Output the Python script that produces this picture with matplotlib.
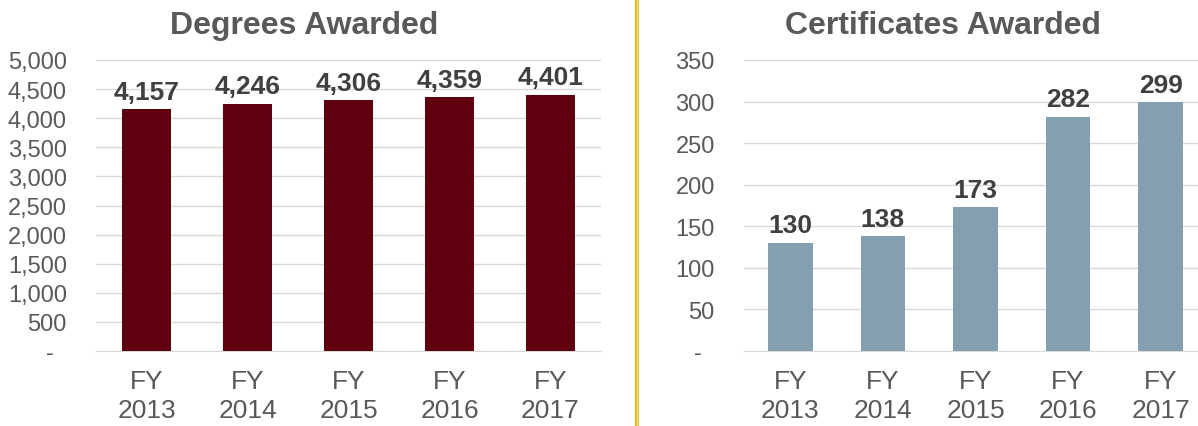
import matplotlib.pyplot as plt
from matplotlib.lines import Line2D

plt.rcParams['font.family'] = ['Liberation Sans', 'DejaVu Sans']

# Datos
anios = ['FY\n2013', 'FY\n2014', 'FY\n2015', 'FY\n2016', 'FY\n2017']
grados = [4157, 4246, 4306, 4359, 4401]
certificados = [130, 138, 173, 282, 299]

ticks_grados = [0, 500, 1000, 1500, 2000, 2500, 3000, 3500, 4000, 4500, 5000]
ticks_cert = [0, 50, 100, 150, 200, 250, 300, 350]

gris_texto = '#595959'
gris_dato = '#404040'
gris_rejilla = '#D9D9D9'

W, H = 1198, 427
fig = plt.figure(figsize=(W / 100, H / 100), dpi=100)
ax1 = fig.add_axes([96 / W, 1 - 352 / H, 505 / W, 291 / H])
ax2 = fig.add_axes([744 / W, 1 - 352 / H, 463 / W, 291 / H])


def dibujar(ax, valores, ticks, color):
    x = range(len(valores))
    ax.bar(x, valores, width=0.48, color=color, zorder=3)
    ax.set_xlim(-0.5, len(valores) - 0.5)
    ax.set_ylim(0, ticks[-1])
    ax.set_yticks(ticks)
    # formato contable: el cero se muestra como guion
    ax.set_yticklabels(['-  '] + [f'{t:,}' for t in ticks[1:]])
    ax.set_xticks(list(x))
    ax.set_xticklabels(anios, linespacing=1.28)
    ax.grid(axis='y', color=gris_rejilla, linewidth=1, zorder=0)
    for s in ['top', 'right', 'left']:
        ax.spines[s].set_visible(False)
    ax.spines['bottom'].set_color(gris_rejilla)
    ax.tick_params(axis='both', length=0, colors=gris_texto)
    ax.tick_params(axis='x', pad=13, labelsize=19)
    ax.tick_params(axis='y', pad=21, labelsize=17)
    for i, v in enumerate(valores):
        ax.annotate(f'{v:,}', (i, v), xytext=(0, 4), textcoords='offset points',
                    ha='center', va='bottom', fontsize=19, fontweight='bold',
                    color=gris_dato)


dibujar(ax1, grados, ticks_grados, '#5E000D')
dibujar(ax2, certificados, ticks_cert, '#84A0B0')

# Titulos
fig.text(304.5 / W, 1 - 34 / H, 'Degrees Awarded', ha='center', va='baseline',
         fontsize=23, fontweight='bold', color=gris_texto)
fig.text(943 / W, 1 - 34 / H, 'Certificates Awarded', ha='center', va='baseline',
         fontsize=23, fontweight='bold', color=gris_texto)

# Linea divisoria dorada
fig.add_artist(Line2D([637 / W, 637 / W], [0, 1], color='#D9BE1A',
                      linewidth=3, transform=fig.transFigure))
fig.add_artist(Line2D([637 / W, 637 / W], [0, 1], color='#F3E6A0',
                      linewidth=0.8, transform=fig.transFigure))

fig.savefig('out.png', dpi=100)
